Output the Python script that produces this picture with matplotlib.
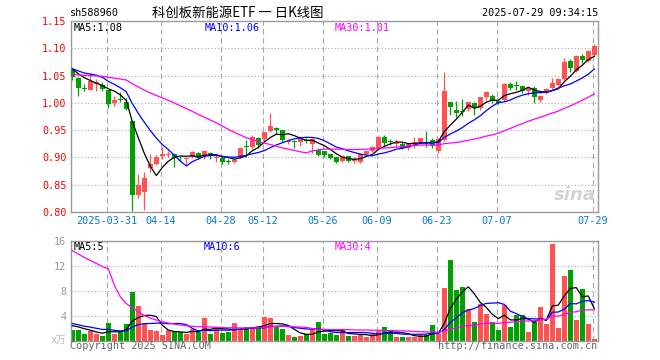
import numpy as np
import pandas as pd
import matplotlib
matplotlib.use("Agg")
import matplotlib.pyplot as plt
from matplotlib.transforms import blended_transform_factory

# ---------------- data ----------------
dates = ["03-21", "03-24", "03-25", "03-26", "03-27", "03-28", "03-31",
         "04-01", "04-02", "04-03", "04-07", "04-08", "04-09", "04-10", "04-11",
         "04-14", "04-15", "04-16", "04-17", "04-18", "04-21", "04-22", "04-23",
         "04-24", "04-25", "04-28", "04-29", "04-30", "05-06", "05-07", "05-08",
         "05-09", "05-12", "05-13", "05-14", "05-15", "05-16", "05-19", "05-20",
         "05-21", "05-22", "05-23", "05-26", "05-27", "05-28", "05-29", "05-30",
         "06-03", "06-04", "06-05", "06-06", "06-09", "06-10", "06-11", "06-12",
         "06-13", "06-16", "06-17", "06-18", "06-19", "06-20", "06-23", "06-24",
         "06-25", "06-26", "06-27", "06-30", "07-01", "07-02", "07-03", "07-04",
         "07-07", "07-08", "07-09", "07-10", "07-11", "07-14", "07-15", "07-16",
         "07-17", "07-18", "07-21", "07-22", "07-23", "07-24", "07-25", "07-28",
         "07-29"]

opens = [1.060, 1.046, 1.027, 1.024, 1.035, 1.033, 1.023, 1.000, 1.007, 1.002,
         0.967, 0.831, 0.837, 0.881, 0.888, 0.903, 0.905, 0.907, 0.901, 0.898,
         0.901, 0.909, 0.902, 0.909, 0.899, 0.899, 0.893, 0.891, 0.900, 0.920,
         0.919, 0.936, 0.933, 0.948, 0.954, 0.950, 0.928, 0.931, 0.929, 0.932,
         0.925, 0.913, 0.911, 0.906, 0.900, 0.893, 0.902, 0.894, 0.891, 0.907,
         0.911, 0.917, 0.938, 0.930, 0.925, 0.925, 0.917, 0.926, 0.929, 0.927,
         0.932, 0.911, 0.932, 1.001, 0.987, 0.984, 0.989, 1.000, 0.990, 1.010,
         1.012, 1.003, 1.006, 1.034, 1.032, 1.030, 1.022, 1.027, 1.006, 1.018,
         1.027, 1.033, 1.044, 1.077, 1.059, 1.085, 1.077, 1.087]
highs = [1.063, 1.047, 1.034, 1.054, 1.044, 1.039, 1.023, 1.013, 1.019, 1.008,
         0.967, 0.870, 0.874, 0.906, 0.905, 0.920, 0.911, 0.908, 0.903, 0.900,
         0.912, 0.910, 0.913, 0.910, 0.904, 0.900, 0.897, 0.897, 0.918, 0.932,
         0.941, 0.937, 0.947, 0.982, 0.955, 0.951, 0.934, 0.932, 0.939, 0.935,
         0.935, 0.917, 0.912, 0.907, 0.901, 0.905, 0.903, 0.900, 0.907, 0.912,
         0.921, 0.939, 0.941, 0.933, 0.934, 0.928, 0.926, 0.937, 0.936, 0.949,
         0.935, 0.935, 1.056, 1.002, 1.004, 1.007, 1.002, 1.002, 1.011, 1.021,
         1.017, 1.005, 1.036, 1.039, 1.040, 1.031, 1.028, 1.030, 1.014, 1.027,
         1.045, 1.045, 1.083, 1.080, 1.087, 1.089, 1.096, 1.107]
lows = [1.042, 1.012, 1.021, 1.023, 1.021, 1.021, 0.991, 0.995, 1.001, 0.987,
        0.801, 0.826, 0.803, 0.874, 0.886, 0.897, 0.901, 0.882, 0.894, 0.886,
        0.899, 0.898, 0.897, 0.898, 0.892, 0.888, 0.888, 0.889, 0.899, 0.901,
        0.915, 0.918, 0.930, 0.946, 0.943, 0.929, 0.925, 0.918, 0.921, 0.927,
        0.909, 0.903, 0.900, 0.897, 0.890, 0.891, 0.891, 0.890, 0.889, 0.905,
        0.910, 0.915, 0.921, 0.922, 0.920, 0.915, 0.914, 0.917, 0.926, 0.920,
        0.918, 0.909, 0.930, 0.978, 0.974, 0.975, 0.985, 0.977, 0.987, 1.005,
        1.000, 0.997, 1.004, 1.024, 1.024, 1.018, 1.015, 0.999, 1.002, 1.017,
        1.026, 1.030, 1.042, 1.056, 1.056, 1.073, 1.074, 1.085]
closes = [1.047, 1.028, 1.026, 1.040, 1.039, 1.026, 0.997, 1.006, 1.005, 0.988,
          0.832, 0.849, 0.863, 0.888, 0.901, 0.907, 0.906, 0.899, 0.900, 0.899,
          0.910, 0.899, 0.911, 0.905, 0.900, 0.891, 0.892, 0.896, 0.917, 0.919,
          0.937, 0.922, 0.946, 0.958, 0.950, 0.932, 0.931, 0.929, 0.934, 0.930,
          0.934, 0.905, 0.905, 0.899, 0.891, 0.902, 0.893, 0.897, 0.906, 0.911,
          0.920, 0.938, 0.926, 0.929, 0.929, 0.918, 0.924, 0.928, 0.935, 0.926,
          0.921, 0.934, 1.022, 0.992, 0.982, 0.983, 1.001, 0.993, 1.010, 1.019,
          1.003, 0.999, 1.035, 1.028, 1.031, 1.022, 1.027, 1.010, 1.013, 1.026,
          1.036, 1.044, 1.074, 1.063, 1.085, 1.079, 1.095, 1.105]
volumes = [1.66, 1.66, 1.0, 1.5, 1.0, 0.7, 2.8, 1.0, 1.5, 2.6,
           7.8, 5.5, 2.7, 1.66, 1.5, 0.86, 1.66, 1.5, 1.4, 1.0,
           1.77, 1.4, 3.6, 1.1, 2.1, 1.2, 1.3, 2.8, 1.8, 2.1,
           2.1, 2.1, 3.7, 3.6, 2.1, 1.8, 0.9, 0.55, 0.7, 1.0,
           1.8, 2.9, 1.1, 1.2, 0.86, 1.8, 0.7, 0.7, 0.86, 0.6,
           1.0, 1.5, 2.1, 1.5, 0.6, 0.6, 0.6, 0.6, 0.9, 0.86,
           2.5, 1.0, 8.4, 12.9, 8.1, 8.6, 5.0, 2.9, 5.9, 4.2,
           2.9, 1.66, 5.7, 2.1, 4.1, 4.1, 1.3, 2.9, 5.35, 2.6,
           15.5, 2.0, 10.3, 11.3, 3.3, 8.2, 2.6, 0.2]

# estimated history before the first visible day (only feeds the moving averages)
prev_closes = [1.045, 1.050, 1.058, 1.055, 1.048, 1.052, 1.056,
               1.050, 1.042, 1.036, 1.030, 1.035, 1.040, 1.045, 1.038, 1.042, 1.044,
               1.050, 1.055, 1.062, 1.068, 1.064, 1.058, 1.060, 1.066, 1.070, 1.062,
               1.066, 1.064]
prev_volumes = [18, 17, 16, 15.5, 15, 14.1, 80, 57.5, 35, 28, 25, 20.6, 14, 11, 9,
                7.7, 6.5, 5.5, 5, 4.3, 3.8, 3.2, 3.0, 2.8, 2.6, 2.6, 2.5, 2.6, 2.5]

tick_dates = ["03-31", "04-14", "04-28", "05-12", "05-26", "06-09", "06-23", "07-07", "07-29"]
tick_labels = ["2025-03-31", "04-14", "04-28", "05-12", "05-26", "06-09", "06-23", "07-07", "07-29"]
price_ticks = [0.80, 0.85, 0.90, 0.95, 1.00, 1.05, 1.10, 1.15]
vol_ticks = [4, 8, 12, 16]
price_ma_labels = ["MA5:1.08", "MA10:1.06", "MA30:1.01"]
vol_ma_labels = ["MA5:5", "MA10:6", "MA30:4"]

# ---------------- derived ----------------
n = len(closes)
x = np.arange(n)
cl_all = pd.Series(prev_closes + closes)
vo_all = pd.Series(prev_volumes + volumes)
ma_p = {w: cl_all.rolling(w).mean().values[-n:] for w in (5, 10, 30)}
ma_v = {w: vo_all.rolling(w).mean().values[-n:] for w in (5, 10, 30)}

RED = "#ff5252"
GREEN = "#00a000"
GRID = "#aaaaaa"
BORDER = "#999999"
MONO = "DejaVu Sans Mono"
CJK = ["Noto Sans CJK SC", "DejaVu Sans"]

up = np.array(closes) >= np.array(opens)
cols = np.where(up, RED, GREEN)

W, H = 660, 360
fig = plt.figure(figsize=(6.6, 3.6), dpi=100)
fig.patch.set_facecolor("white")

def fx(px):
    return px / W

def fy(py):
    return 1 - py / H

L, R = 70.7, 598.0
ax = fig.add_axes([fx(L), fy(212), fx(R) - fx(L), fy(21) - fy(212)])
axv = fig.add_axes([fx(L), fy(340.5), fx(R) - fx(L), fy(240.7) - fy(340.5)])

xlim = (-0.27, n - 1 + 0.62)
grid_x = [dates.index(d) - 0.25 for d in tick_dates]

for a in (ax, axv):
    a.set_xlim(*xlim)
    for s in a.spines.values():
        s.set_color(BORDER)
        s.set_linewidth(1.0)
    a.tick_params(length=0)
    a.set_xticks([])
    for gx in grid_x:
        a.axvline(gx, color=GRID, lw=0.8, ls=(0, (5, 3)), zorder=0)

# ---- price panel ----
ax.set_ylim(0.80, 1.15)
for t in price_ticks[1:-1]:
    ax.axhline(t, color=GRID, lw=0.8, ls=(0, (1, 2)), zorder=0)
ax.set_yticks(price_ticks)
ax.set_yticklabels([f"{t:.2f}" for t in price_ticks], color="red",
                   fontsize=7.3, family=MONO)
ax.tick_params(axis="y", pad=3)

o = np.array(opens); c = np.array(closes)
body_lo = np.minimum(o, c)
body_h = np.maximum(np.abs(c - o), 0.0012)
ax.vlines(x, lows, highs, colors=cols, lw=0.9, zorder=2)
ax.bar(x, body_h, bottom=body_lo, width=0.78, color=cols, linewidth=0, zorder=3)

ax.plot(x, ma_p[5], color="black", lw=0.9, zorder=4)
ax.plot(x, ma_p[10], color="#0000ff", lw=0.9, zorder=4)
ax.plot(x, ma_p[30], color="#ff00ff", lw=0.9, zorder=4)

# watermark
ax.text(0.995, 0.04, "sina", transform=ax.transAxes, ha="right", va="bottom",
        fontsize=13, fontweight="bold", style="italic", color="#d4d4d4", zorder=1)

# ---- volume panel ----
axv.set_ylim(0, 16)
for t in vol_ticks[:-1]:
    axv.axhline(t, color=GRID, lw=0.8, ls=(0, (1, 2)), zorder=0)
axv.set_yticks(vol_ticks)
axv.set_yticklabels([str(t) for t in vol_ticks], color="#999999",
                    fontsize=7.3, family=MONO)
axv.tick_params(axis="y", pad=3)
axv.bar(x, volumes, width=0.8, color=cols, linewidth=0, zorder=2)
axv.plot(x, ma_v[5], color="black", lw=0.9, zorder=4)
axv.plot(x, ma_v[10], color="#0000ff", lw=0.9, zorder=4)
axv.plot(x, ma_v[30], color="#ff00ff", lw=0.9, zorder=4)

# ---- texts ----
fig.text(fx(70), fy(13), "sh588960", ha="left", va="center", fontsize=7.3,
         family=MONO, color="black")
fig.text(fx(238), fy(13), "科创板新能源ETF 一 日K线图", ha="center", va="center",
         fontsize=9.6, family=CJK, color="black")
fig.text(fx(598), fy(13), "2025-07-29 09:34:15", ha="right", va="center",
         fontsize=7.3, family=MONO, color="black")

for lab, px_, colr in zip(price_ma_labels, (74, 205, 335), ("black", "#0000ff", "#ff00ff")):
    fig.text(fx(px_), fy(28), lab, ha="left", va="center", fontsize=7.3,
             family=MONO, color=colr)
for lab, px_, colr in zip(vol_ma_labels, (74, 204, 335), ("black", "#0000ff", "#ff00ff")):
    fig.text(fx(px_), fy(246.5), lab, ha="left", va="center", fontsize=7.3,
             family=MONO, color=colr)

trans = blended_transform_factory(ax.transData, fig.transFigure)
for gx, lab in zip(grid_x, tick_labels):
    ax.text(gx, fy(221.5), lab, transform=trans, ha="center", va="center",
            fontsize=7.3, family=MONO, color="#0a78d2", clip_on=False)

fig.text(fx(66), fy(340), "x万", ha="right", va="center", fontsize=7,
         family=CJK, color="#bbbbbb")
fig.text(fx(70), fy(346), "Copyright 2025 SINA.COM", ha="left", va="center",
         fontsize=7.3, family=MONO, color="#666666")
fig.text(fx(597), fy(346), "http://finance.sina.com.cn", ha="right", va="center",
         fontsize=7.3, family=MONO, color="#666666")

fig.savefig("out.png", dpi=100, facecolor="white")
